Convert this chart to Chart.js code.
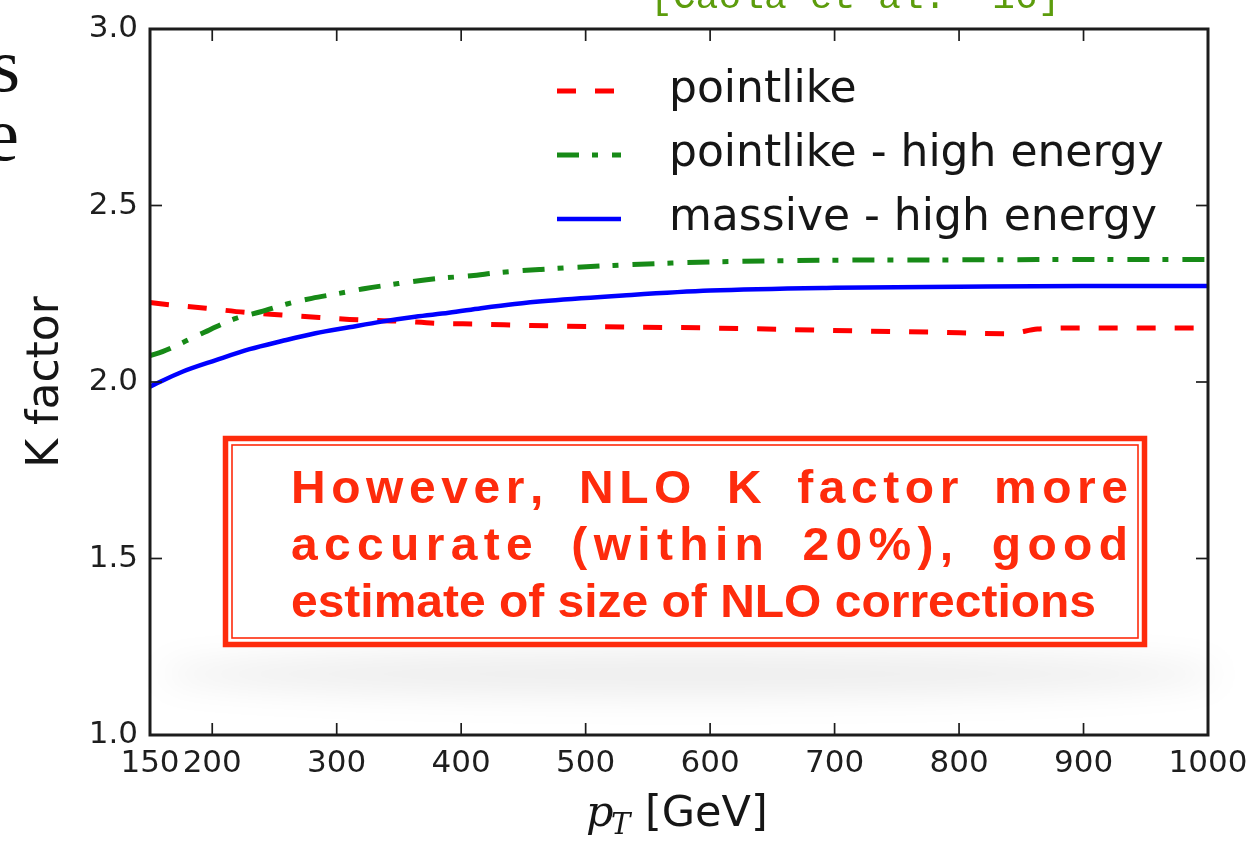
<!DOCTYPE html>
<html>
<head>
<meta charset="utf-8">
<script src="https://cdn.jsdelivr.net/npm/chart.js@4.4.1/dist/chart.umd.min.js"></script>
<style>
  html, body { margin:0; padding:0; background:#fff; }
  #wrap { width:1259px; height:841px; position:relative; }
</style>
</head>
<body>
<div id="wrap"><canvas id="kfactor" width="1259" height="841"></canvas></div>
<script>
// --- K factor vs pT ---
const ptPointlike = [150,160,195,227,256,286,318,347,382,414,456,530,600,728,780,839,863,890,1000];
const kPointlike  = [2.225,2.221,2.209,2.197,2.190,2.183,2.176,2.173,2.166,2.164,2.160,2.156,2.153,2.144,2.141,2.137,2.150,2.153,2.153];

const ptPointlikeHigh = [150,160,190,219,239,260,280,302,323,344,366,387,408,430,464,520,600,700,800,900,1000];
const kPointlikeHigh  = [2.075,2.086,2.135,2.180,2.199,2.221,2.237,2.251,2.265,2.276,2.287,2.295,2.301,2.310,2.319,2.330,2.340,2.345,2.346,2.347,2.347];

const ptMassiveHigh = [150,176,203,230,256,283,310,336,363,390,416,443,470,530,600,700,800,900,1000];
const kMassiveHigh  = [1.987,2.029,2.062,2.093,2.116,2.138,2.155,2.171,2.185,2.196,2.209,2.221,2.230,2.245,2.259,2.267,2.270,2.272,2.272];

const seriesNames = ['pointlike', 'pointlike - high energy', 'massive - high energy'];
const xTicks = [150,200,300,400,500,600,700,800,900,1000];
const yTicks = [1.0,1.5,2.0,2.5,3.0];

const noteLines = ['However, NLO K factor more', 'accurate (within 20%), good', 'estimate of size of NLO corrections'];
const citeText = "[Caola et al. '16]";

const pairs = (xs, ys) => xs.map((v,i)=>({x:v, y:ys[i]}));

// inward ticks on all four sides + the box
const frameTicks = {
  id:'frameTicks',
  afterDatasetsDraw(chart){
    const {ctx, chartArea:a, scales:{x, y}} = chart;
    ctx.save();
    ctx.strokeStyle = '#1c1c1c';
    ctx.lineWidth = 1.7;
    const seg = (x0,y0,x1,y1)=>{ ctx.beginPath(); ctx.moveTo(x0,y0); ctx.lineTo(x1,y1); ctx.stroke(); };
    x.ticks.forEach(t=>{
      const px = x.getPixelForValue(t.value);
      seg(px, a.bottom, px, a.bottom-12);
      seg(px, a.top, px, a.top+12);
    });
    y.ticks.forEach(t=>{
      const py = y.getPixelForValue(t.value);
      seg(a.left, py, a.left+12, py);
      seg(a.right, py, a.right-12, py);
    });
    ctx.lineWidth = 3;
    ctx.strokeRect(a.left, a.top, a.right-a.left, a.bottom-a.top);
    ctx.restore();
  }
};

// legend inside the axes, no frame
const innerLegend = {
  id:'innerLegend',
  afterDatasetsDraw(chart){
    const {ctx, chartArea:a} = chart;
    ctx.save();
    ctx.font = '44px "DejaVu Sans"';
    ctx.textBaseline = 'middle';
    ctx.fillStyle = '#161616';
    chart.data.datasets.forEach((ds,i)=>{
      const yy = a.top + 62 + i*64;
      const x0 = a.left + 407;
      ctx.save();
      ctx.strokeStyle = ds.borderColor;
      ctx.lineWidth = ds.borderWidth;
      ctx.setLineDash(ds.borderDash || []);
      ctx.beginPath(); ctx.moveTo(x0, yy); ctx.lineTo(x0+64, yy); ctx.stroke();
      ctx.restore();
      ctx.fillText(ds.label, a.left + 519, yy);
    });
    ctx.restore();
  }
};

function drawSpread(ctx, text, x0, x1, y, sx){
  const chars = [...text];
  const w = chars.map(c=>ctx.measureText(c).width*sx);
  const natural = w.reduce((p,q)=>p+q,0);
  const spaces = chars.filter(c=>c===' ').length;
  const unit = ((x1-x0)-natural) / ((chars.length-1) + spaces*2);
  let x = x0;
  chars.forEach((c,i)=>{
    ctx.save(); ctx.translate(x,y); ctx.scale(sx,1); ctx.fillText(c,0,0); ctx.restore();
    x += w[i] + unit*(c===' ' ? 3 : 1);
  });
}

// red stamped note, its drop shadow, slide leftovers
const overlay = {
  id:'overlay',
  afterDraw(chart){
    const {ctx} = chart;
    ctx.save();
    // soft shadow below the note
    ctx.filter = 'blur(16px)';
    ctx.fillStyle = 'rgba(0,0,0,0.07)';
    ctx.beginPath(); ctx.ellipse(690, 674, 530, 22, 0, 0, Math.PI*2); ctx.fill();
    ctx.filter = 'none';

    const red = '#fe2b0c';
    ctx.fillStyle = '#fff';
    ctx.fillRect(223, 436, 924, 211);
    ctx.strokeStyle = red;
    ctx.lineWidth = 5.5;
    ctx.strokeRect(225.5, 438.5, 919, 206);
    ctx.lineWidth = 1.6;
    ctx.strokeRect(232, 445, 906, 193);

    ctx.fillStyle = red;
    ctx.font = 'bold 47px "Liberation Sans", Arial, sans-serif';
    ctx.textBaseline = 'alphabetic';
    const sx = 805 / ctx.measureText(noteLines[2]).width;
    drawSpread(ctx, noteLines[0], 291, 1128, 503, sx);
    drawSpread(ctx, noteLines[1], 291, 1128, 560, sx);
    ctx.save(); ctx.translate(291, 617); ctx.scale(sx,1); ctx.fillText(noteLines[2], 0, 0); ctx.restore();

    // text cut at the slide edges
    ctx.fillStyle = '#111';
    ctx.font = '76px "Liberation Serif", serif';
    ctx.textAlign = 'right';
    ctx.fillText('s', 20, 91);
    ctx.fillText('e', 19, 160);
    ctx.textAlign = 'left';
    ctx.fillStyle = '#5c9c0c';
    ctx.font = '38px "Liberation Mono", monospace';
    ctx.fillText(citeText, 650, 8);

    // x axis title: p_T [GeV]
    ctx.fillStyle = '#161616';
    ctx.font = 'italic 43px "DejaVu Serif", serif';
    ctx.fillText('p', 586, 826);
    ctx.font = 'italic 29px "DejaVu Serif", serif';
    ctx.fillText('T', 611, 834);
    ctx.font = '43px "DejaVu Sans"';
    ctx.fillText('[GeV]', 645, 826);
    ctx.restore();
  }
};

new Chart(document.getElementById('kfactor').getContext('2d'), {
  type:'line',
  data:{
    datasets:[
      {label:seriesNames[0], data:pairs(ptPointlike,kPointlike), borderColor:'#ff0000', borderWidth:5, borderDash:[19,19], order:3},
      {label:seriesNames[1], data:pairs(ptPointlikeHigh,kPointlikeHigh), borderColor:'#178a17', borderWidth:5, borderDash:[22,13,6,14], order:2},
      {label:seriesNames[2], data:pairs(ptMassiveHigh,kMassiveHigh), borderColor:'#0000ff', borderWidth:4.5, order:1}
    ]
  },
  options:{
    responsive:false,
    animation:false,
    devicePixelRatio:1,
    layout:{padding:{left:0, top:29, right:51, bottom:0}},
    elements:{point:{radius:0}, line:{cubicInterpolationMode:'monotone', borderCapStyle:'butt'}},
    plugins:{legend:{display:false}, tooltip:{enabled:false}},
    scales:{
      x:{
        type:'linear', min:150, max:1000,
        afterBuildTicks:s=>{ s.ticks = xTicks.map(v=>({value:v})); },
        afterFit:s=>{ s.height = 106; },
        grid:{display:false}, border:{display:false},
        ticks:{color:'#1e1e1e', font:{family:'DejaVu Sans', size:31}, padding:2, maxRotation:0, autoSkip:false,
               callback:v=>String(v)}
      },
      y:{
        min:1, max:3,
        afterBuildTicks:s=>{ s.ticks = yTicks.map(v=>({value:v})); },
        afterFit:s=>{ s.width = 150; },
        grid:{display:false}, border:{display:false},
        ticks:{color:'#1e1e1e', font:{family:'DejaVu Sans', size:31}, padding:4, callback:v=>Number(v).toFixed(1)},
        title:{display:true, text:'K factor', color:'#161616', font:{family:'DejaVu Sans', size:44}, padding:{top:20, bottom:0}}
      }
    }
  },
  plugins:[frameTicks, innerLegend, overlay]
});
</script>
</body>
</html>
